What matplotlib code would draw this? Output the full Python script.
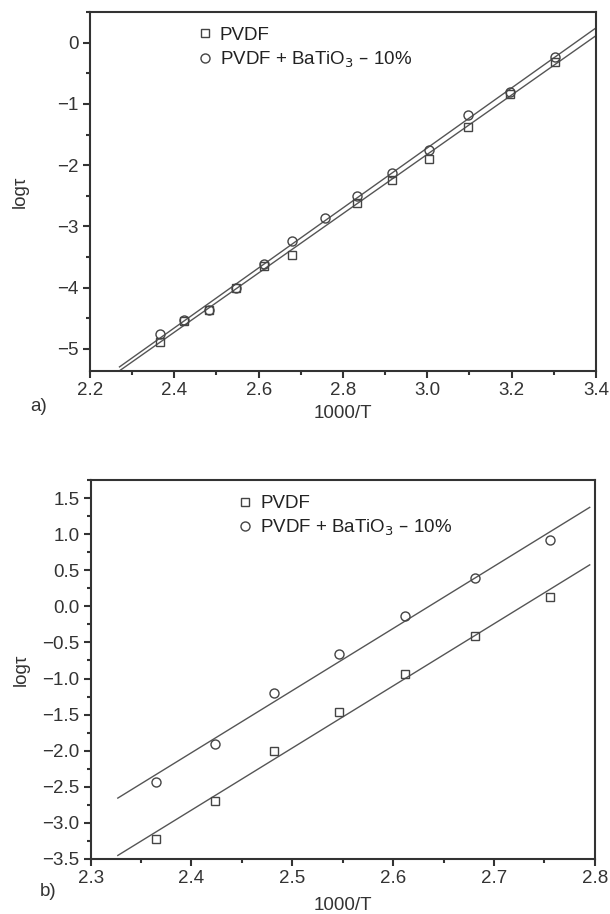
import numpy as np
import matplotlib
matplotlib.use("Agg")
import matplotlib.pyplot as plt
from matplotlib.ticker import MultipleLocator, FuncFormatter

plt.rcParams['font.family'] = ['Liberation Sans', 'DejaVu Sans']
plt.rcParams['axes.unicode_minus'] = True

# ---------- data: panel a ----------
a_x_pvdf = [2.366, 2.423, 2.483, 2.546, 2.612, 2.680, 2.833, 2.916, 3.004, 3.096, 3.195, 3.302]
a_y_pvdf = [-4.88, -4.55, -4.37, -4.01, -3.65, -3.46, -2.61, -2.24, -1.90, -1.37, -0.84, -0.31]
a_x_bto = [2.366, 2.423, 2.483, 2.546, 2.612, 2.680, 2.757, 2.833, 2.916, 3.004, 3.096, 3.195, 3.302]
a_y_bto = [-4.75, -4.53, -4.37, -4.01, -3.61, -3.24, -2.86, -2.50, -2.13, -1.76, -1.18, -0.81, -0.24]
a_fit_range = [2.27, 3.40]

# ---------- data: panel b ----------
b_x = [2.365, 2.423, 2.482, 2.546, 2.612, 2.681, 2.756]
b_y_pvdf = [-3.23, -2.69, -2.00, -1.46, -0.94, -0.41, 0.13]
b_y_bto = [-2.43, -1.91, -1.20, -0.66, -0.14, 0.39, 0.92]
b_fit_range = [2.327, 2.795]

labels = ['PVDF', 'PVDF + BaTiO$_3$ \u2013 10%']
xlabel = '1000/T'
ylabel = 'logτ'

fig = plt.figure(figsize=(6.10, 9.14), dpi=100)
ax1 = fig.add_axes([0.1475, 0.5941, 0.977 - 0.1475, 0.9869 - 0.5941])
ax2 = fig.add_axes([0.1485, 0.0602, 0.975 - 0.1485, 0.4748 - 0.0602])

mcol = '#444444'
lcol = '#555555'
tcol = '#333333'
fs = 13.5


def fmt(decimals):
    def f(v, pos):
        s = f'{v:.{decimals}f}'
        if s.startswith('-') and float(s) != 0:
            s = '\u2212' + s[1:]
        elif s.startswith('-'):
            s = s[1:]
        return s
    return FuncFormatter(f)


def draw(ax, xs1, ys1, xs2, ys2, rng, ms_sq, ms_ci):
    for xs, ys in ((xs1, ys1), (xs2, ys2)):
        k, b = np.polyfit(xs, ys, 1)
        xx = np.array(rng)
        ax.plot(xx, k * xx + b, color=lcol, lw=1.0, zorder=2)
    h1, = ax.plot(xs1, ys1, ls='none', marker='s', ms=ms_sq, mfc='none', mec=mcol, mew=1.0, zorder=3)
    h2, = ax.plot(xs2, ys2, ls='none', marker='o', ms=ms_ci, mfc='none', mec=mcol, mew=1.0, zorder=3)
    return h1, h2


def style(ax, xlabelpad):
    for s in ax.spines.values():
        s.set_color(tcol)
        s.set_linewidth(1.5)
    ax.tick_params(which='both', direction='out', top=False, right=False, color=tcol,
                   labelsize=fs, labelcolor=tcol, width=1.5)
    ax.tick_params(which='major', length=5, pad=3)
    ax.tick_params(which='minor', length=3)
    ax.set_xlabel(xlabel, fontsize=fs, color=tcol, labelpad=xlabelpad)
    ax.set_ylabel(ylabel, fontsize=fs, color=tcol)


h1, h2 = draw(ax1, a_x_pvdf, a_y_pvdf, a_x_bto, a_y_bto, a_fit_range, 5.5, 6.5)
ax1.set_xlim(2.2, 3.4)
ax1.set_ylim(-5.36, 0.5)
ax1.xaxis.set_major_locator(MultipleLocator(0.2))
ax1.xaxis.set_minor_locator(MultipleLocator(0.1))
ax1.xaxis.set_major_formatter(fmt(1))
ax1.yaxis.set_major_locator(MultipleLocator(1))
ax1.yaxis.set_minor_locator(MultipleLocator(0.5))
ax1.yaxis.set_major_formatter(fmt(0))
style(ax1, 4)
ax1.yaxis.set_label_coords((29 - 90) / 506, 0.5)
ax1.legend([h1, h2], labels, loc='upper left', bbox_to_anchor=(0.19, 0.985), frameon=False,
           fontsize=fs, handlelength=1.0, handletextpad=0.3, borderpad=0, labelspacing=0.3,
           labelcolor='#222222')
fig.text(30 / 610, 1 - 407 / 914, 'a)', fontsize=fs, color=tcol, ha='left', va='center')

g1, g2 = draw(ax2, b_x, b_y_pvdf, b_x, b_y_bto, b_fit_range, 5.5, 6.5)
ax2.set_xlim(2.3, 2.8)
ax2.set_ylim(-3.5, 1.75)
ax2.xaxis.set_major_locator(MultipleLocator(0.1))
ax2.xaxis.set_minor_locator(MultipleLocator(0.05))
ax2.xaxis.set_major_formatter(fmt(1))
ax2.yaxis.set_major_locator(MultipleLocator(0.5))
ax2.yaxis.set_minor_locator(MultipleLocator(0.25))
ax2.yaxis.set_major_formatter(fmt(1))
style(ax2, 7)
ax2.yaxis.set_label_coords((29 - 90) / 505, 0.5)
ax2.legend([g1, g2], labels, loc='upper left', bbox_to_anchor=(0.27, 0.985), frameon=False,
           fontsize=fs, handlelength=1.0, handletextpad=0.3, borderpad=0, labelspacing=0.3,
           labelcolor='#222222')
fig.text(40 / 610, 1 - 891 / 914, 'b)', fontsize=fs, color=tcol, ha='left', va='center')

fig.savefig('out.png', dpi=100)
